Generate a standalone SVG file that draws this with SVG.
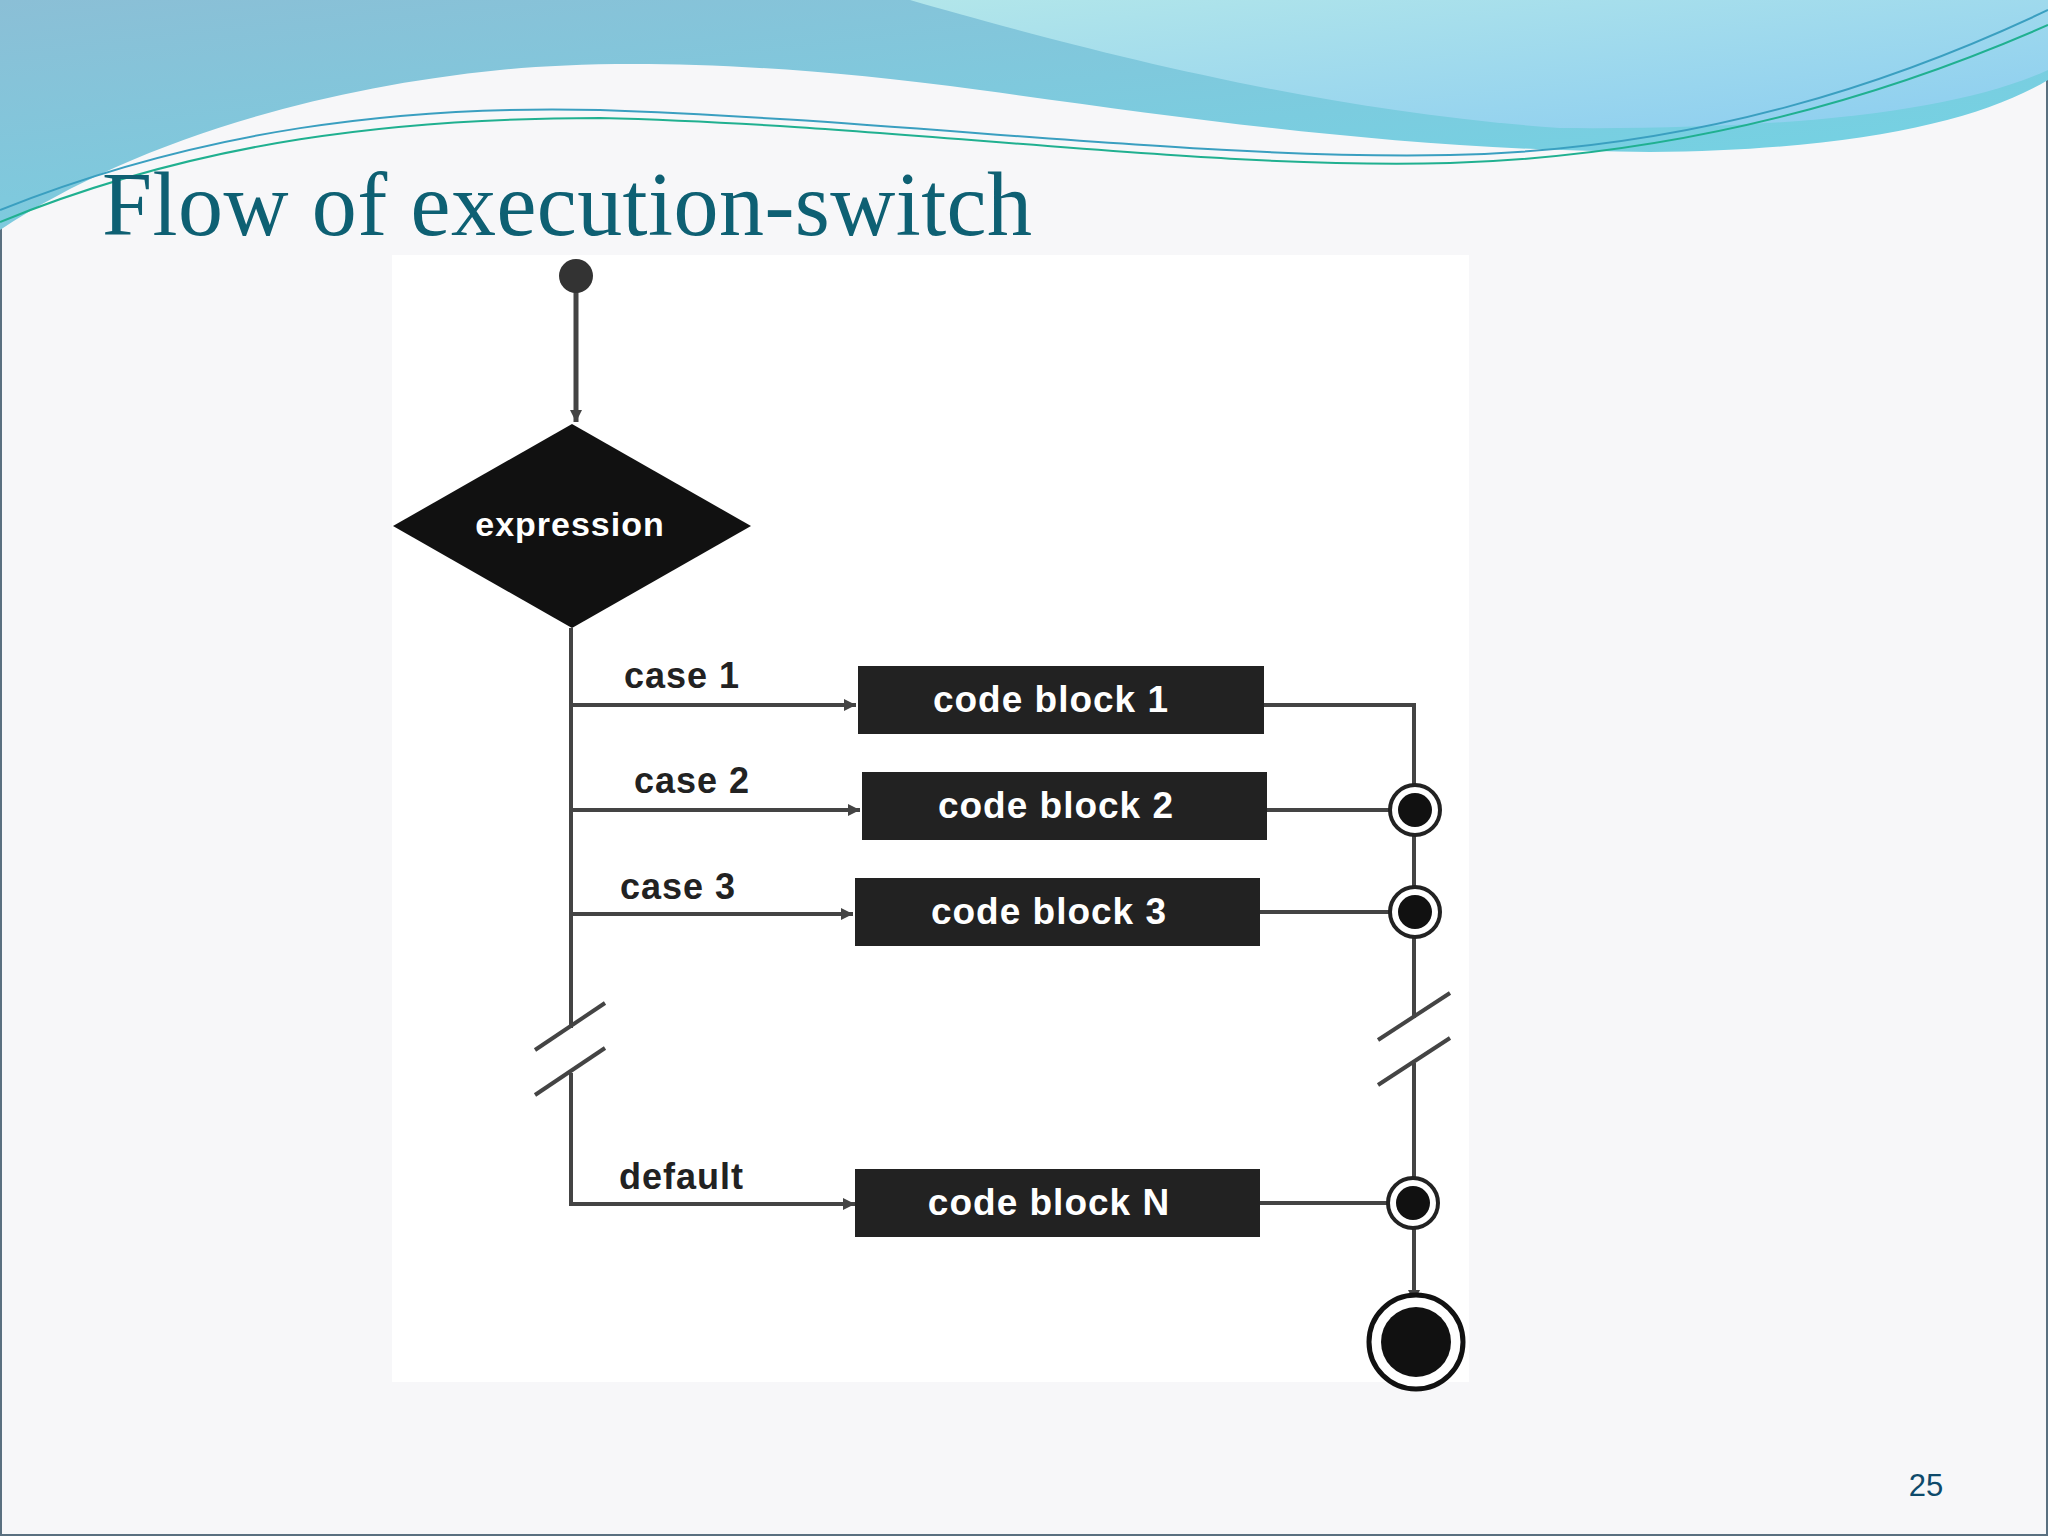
<svg xmlns="http://www.w3.org/2000/svg" width="2048" height="1536" viewBox="0 0 2048 1536">
<defs>
<style>
.ln{stroke:#444;stroke-width:4;fill:none}
.box{fill:#222}
.bt{font-family:"Liberation Sans",Arial,sans-serif;font-weight:bold;font-size:37px;fill:#fff;text-anchor:middle;letter-spacing:1px}
.lb{font-family:"Liberation Sans",Arial,sans-serif;font-weight:bold;font-size:36px;fill:#222;letter-spacing:1px}
.jn{fill:#222;stroke:#222;stroke-width:3}
</style>
<linearGradient id="g1" x1="0" y1="0" x2="1" y2="1"><stop offset="0" stop-color="#8bbfd6"/><stop offset="1" stop-color="#6fd6e6"/></linearGradient>
<linearGradient id="g2" x1="0" y1="0" x2="1" y2="1"><stop offset="0" stop-color="#b2e6ea"/><stop offset="1" stop-color="#8ccdf0"/></linearGradient>
<marker id="ah" viewBox="0 0 10 10" refX="10" refY="5" markerWidth="12" markerHeight="12" markerUnits="userSpaceOnUse" orient="auto"><path d="M0,0L10,5L0,10z" fill="#444"/></marker>
</defs>
<rect width="2048" height="1536" fill="#f7f7f9"/>
<rect x="1" y="1" width="2046" height="1534" fill="none" stroke="#5a7080" stroke-width="2"/>
<g id="header">
<path d="M0,0H2048V80C1980,120 1860,150 1650,152C1400,150 1200,120 980,90C760,60 600,60 500,70C300,90 120,150 0,230Z" fill="url(#g1)"/>
<path d="M910,0H2048V70C1960,110 1800,130 1560,128C1300,110 1050,40 910,0Z" fill="url(#g2)"/>
<path d="M0,210C200,130 400,105 600,110C900,120 1200,160 1450,155C1700,150 1900,80 2048,10" stroke="#3a9fc0" stroke-width="2" fill="none"/>
<path d="M0,222C200,140 400,118 600,118C900,125 1200,170 1450,163C1700,155 1900,90 2048,25" stroke="#20b090" stroke-width="2" fill="none"/>
</g>
<text x="102" y="235" font-family="'Liberation Serif','Times New Roman',serif" font-size="90" fill="#0e6073" textLength="930">Flow of execution-switch</text>
<rect x="392" y="255" width="1077" height="1127" fill="#fff"/>
<g id="connectors">
<line class="ln" x1="576" y1="290" x2="576" y2="422" marker-end="url(#ah)" style="stroke-width:5"/>
<polyline class="ln" points="571,628 571,1204 855,1204" marker-end="url(#ah)"/>
<line class="ln" x1="571" y1="705" x2="856" y2="705" marker-end="url(#ah)"/>
<line class="ln" x1="571" y1="810" x2="860" y2="810" marker-end="url(#ah)"/>
<line class="ln" x1="571" y1="914" x2="853" y2="914" marker-end="url(#ah)"/>
<polyline class="ln" points="1264,705 1414,705 1414,1302" marker-end="url(#ah)"/>
<line class="ln" x1="1267" y1="810" x2="1414" y2="810"/>
<line class="ln" x1="1260" y1="912" x2="1414" y2="912"/>
<line class="ln" x1="1260" y1="1203" x2="1414" y2="1203"/>
<rect x="540" y="1000" width="60" height="90" fill="#fff"/>
<line class="ln" x1="535" y1="1050" x2="605" y2="1003"/>
<line class="ln" x1="535" y1="1095" x2="605" y2="1048"/>
<rect x="1380" y="990" width="70" height="95" fill="#fff"/>
<line class="ln" x1="1378" y1="1040" x2="1450" y2="993"/>
<line class="ln" x1="1378" y1="1085" x2="1450" y2="1038"/>
<line class="ln" x1="571" y1="1000" x2="571" y2="1028"/>
<line class="ln" x1="571" y1="1073" x2="571" y2="1090"/>
<line class="ln" x1="1414" y1="990" x2="1414" y2="1018"/>
<line class="ln" x1="1414" y1="1063" x2="1414" y2="1085"/>
</g>
<g id="start"><circle cx="576" cy="276" r="17" fill="#333"/></g>
<g id="expression"><polygon points="572,424 751,526 572,628 393,526" fill="#111"/><text x="570" y="536" class="bt" style="font-size:34px">expression</text></g>
<g id="lbl"><text x="624" y="688" class="lb">case 1</text><text x="634" y="793" class="lb">case 2</text><text x="620" y="899" class="lb">case 3</text><text x="619" y="1189" class="lb">default</text></g>
<g id="cb1"><rect class="box" x="858" y="666" width="406" height="68"/><text x="1051" y="712" class="bt">code block 1</text></g>
<g id="cb2"><rect class="box" x="862" y="772" width="405" height="68"/><text x="1056" y="818" class="bt">code block 2</text></g>
<g id="cb3"><rect class="box" x="855" y="878" width="405" height="68"/><text x="1049" y="924" class="bt">code block 3</text></g>
<g id="cbN"><rect class="box" x="855" y="1169" width="405" height="68"/><text x="1049" y="1215" class="bt">code block N</text></g>
<g id="j2"><circle cx="1415" cy="810" r="25" fill="#fff" stroke="#222" stroke-width="4"/><circle cx="1415" cy="810" r="17" fill="#111"/></g>
<g id="j3"><circle cx="1415" cy="912" r="25" fill="#fff" stroke="#222" stroke-width="4"/><circle cx="1415" cy="912" r="17" fill="#111"/></g>
<g id="jN"><circle cx="1413" cy="1203" r="25" fill="#fff" stroke="#222" stroke-width="4"/><circle cx="1413" cy="1203" r="17" fill="#111"/></g>
<g id="end"><circle cx="1416" cy="1342" r="47" fill="#fff" stroke="#111" stroke-width="5"/><circle cx="1416" cy="1342" r="35" fill="#111"/></g>
<text x="1926" y="1496" font-family="'Liberation Sans',Arial,sans-serif" font-size="31" fill="#0e4a6b" text-anchor="middle">25</text>
</svg>
